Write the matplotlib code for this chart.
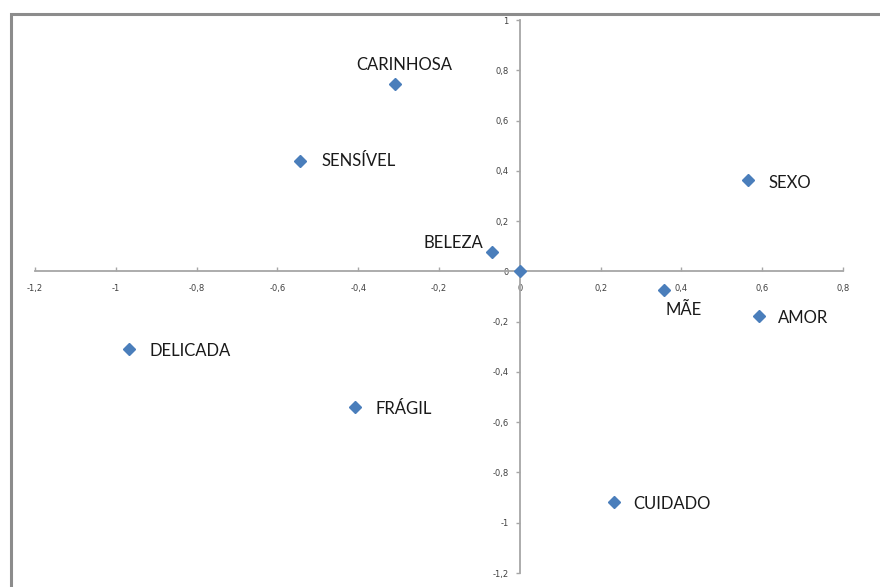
import numpy as np
import matplotlib
matplotlib.use('Agg')
import matplotlib.pyplot as plt
from matplotlib.patches import Rectangle

# coordinates of each word on the two dimensions
words = ['CARINHOSA', 'SENSÍVEL', 'BELEZA', '', 'SEXO', 'MÃE', 'AMOR',
         'DELICADA', 'FRÁGIL', 'CUIDADO']
dim1 = [-0.31, -0.543, -0.069, 0.0, 0.565, 0.357, 0.592, -0.967, -0.409, 0.233]
dim2 = [0.744, 0.441, 0.076, 0.0, 0.362, -0.076, -0.179, -0.31, -0.541, -0.918]

# label placement (offset in points, alignment)
offsets = [(7, 14, 'center'), (15, 0, 'left'), (-6, 7, 'right'), (0, 0, 'left'),
           (15, -2, 'left'), (14, -14, 'center'), (14, -1, 'left'),
           (15, -1, 'left'), (15, -1, 'left'), (14, -1, 'left')]

xticks = [-1.2, -1, -0.8, -0.6, -0.4, -0.2, 0, 0.2, 0.4, 0.6, 0.8]
yticks = [-1.2, -1, -0.8, -0.6, -0.4, -0.2, 0, 0.2, 0.4, 0.6, 0.8, 1]

def br(v):
    s = ('%g' % v).replace('.', ',')
    return s

fig = plt.figure(figsize=(8.8, 5.87), dpi=100)
fig.patch.set_facecolor('white')

# chart border (only top and left edges show)
fig.add_artist(Rectangle((10.5 / 880, -0.05), 1.2, 1.0 - 13.5 / 587 + 0.05,
                         transform=fig.transFigure, fill=False,
                         edgecolor='#8c8c8c', lw=2.2))

ax = fig.add_axes([35 / 880, 14 / 587, 808 / 880, 553 / 587])
ax.set_facecolor('none')
ax.set_xlim(-1.2, 0.8)
ax.set_ylim(-1.2, 1.0)

for s in ['top', 'right']:
    ax.spines[s].set_visible(False)
ax.spines['left'].set_position(('data', 0))
ax.spines['bottom'].set_position(('data', 0))
for s in ['left', 'bottom']:
    ax.spines[s].set_color('#a6a6a6')
    ax.spines[s].set_linewidth(1.3)

ax.set_xticks(xticks)
ax.set_xticklabels([br(v) for v in xticks])
ax.set_yticks(yticks)
ax.set_yticklabels([br(v) for v in yticks])
ax.tick_params(axis='x', direction='in', length=3, width=1, color='#a6a6a6',
               pad=9, labelsize=6, labelcolor='#404040')
ax.tick_params(axis='y', direction='out', length=3, width=1, color='#a6a6a6',
               pad=5, labelsize=6, labelcolor='#404040')

ax.plot(dim1, dim2, linestyle='none', marker='D', markersize=6.5,
        color='#4a7ebb', markeredgecolor='#4a7ebb', clip_on=False, zorder=5)

for w, x, y, (dx, dy, ha) in zip(words, dim1, dim2, offsets):
    if not w:
        continue
    ax.annotate(w, (x, y), xytext=(dx, dy), textcoords='offset points',
                ha=ha, va='center', fontsize=12, family='Lato', color='#1a1a1a')

plt.savefig('out.png', dpi=100)
